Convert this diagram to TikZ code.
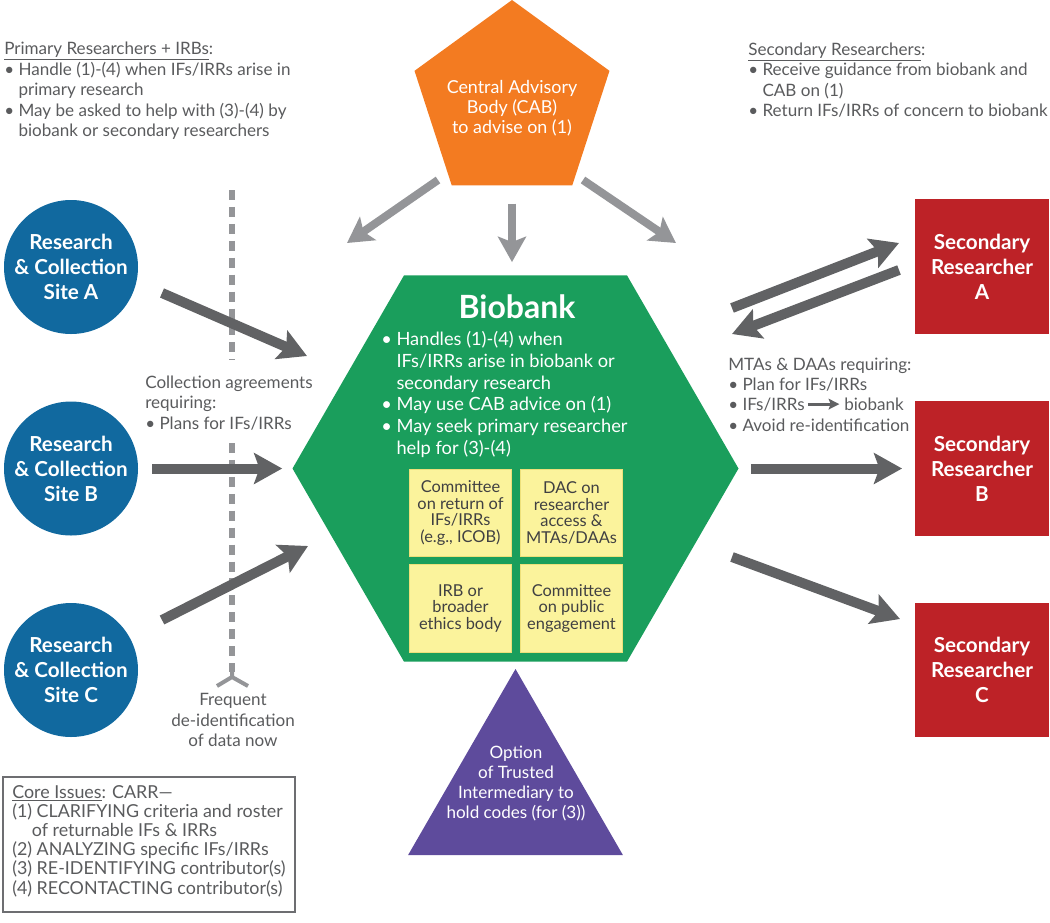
\documentclass[tikz,border=0pt]{standalone}
\usepackage{fontspec}
\setmainfont{Lato}
\usetikzlibrary{arrows.meta}
\usetikzlibrary{shapes.geometric}

\definecolor{cabOrange}{HTML}{F37B21}
\definecolor{bankGreen}{HTML}{1A9E5C}
\definecolor{siteBlue}{HTML}{11699F}
\definecolor{srRed}{HTML}{BD2227}
\definecolor{tiPurple}{HTML}{5E4B9C}
\definecolor{noteYellow}{HTML}{FBF39C}
\definecolor{yellowEdge}{HTML}{EDE07A}
\definecolor{arrowDark}{HTML}{616264}
\definecolor{arrowLight}{HTML}{949598}
\definecolor{textGray}{HTML}{5A5B5D}
\definecolor{boxText}{HTML}{404042}
\definecolor{boxGray}{HTML}{6D6E71}

\newcommand{\bul}{\textbullet\ }
\newcommand{\ind}{\hphantom{\textbullet\ }}

\begin{document}
\begin{tikzpicture}[x=0.75pt, y=-0.75pt,
  note/.style={text=textGray, font=\fontsize{12.8}{15.4}\selectfont, align=left, inner sep=0pt},
  shapetext/.style={text=white, align=center, inner sep=0pt},
  bigtext/.style={text=white, align=center, font=\bfseries\fontsize{15.5}{18.75}\selectfont},
  site/.style={circle, fill=siteBlue, minimum size=100.5pt, inner sep=0pt, bigtext},
  secres/.style={rectangle, fill=srRed, minimum width=100pt, minimum height=101pt, inner sep=0pt, bigtext},
  ybox/.style={rectangle, fill=noteYellow, draw=yellowEdge, line width=0.8pt, minimum width=76.5pt, minimum height=65.5pt, inner sep=0pt, align=center, text=boxText, font=\fontsize{12.3}{12.3}\selectfont},
  darkarrow/.style={color=arrowDark, line width=7.5pt, -{Stealth[length=21pt, width=23pt, inset=4pt]}},
  lightarrow/.style={color=arrowLight, line width=6pt, -{Stealth[length=19pt, width=21pt, inset=4pt]}},
  minarrow/.style={color=arrowDark, line width=2.2pt, -{Stealth[length=8pt, width=8pt, inset=1.5pt]}},
  dashline/.style={color=arrowLight, line width=3.8pt, dash pattern=on 7.5pt off 5.2pt}]
\useasboundingbox (0,0) rectangle (1050,922);

\draw[dashline] (232,190) -- (232,360);
\draw[dashline] (232,443) -- (232,672);
\draw[arrowLight, line width=3pt] (232,670) -- (232,677) (217,686) -- (232,677) -- (248,686);

\node[regular polygon, regular polygon sides=5, fill=cabOrange, minimum size=153.75pt, inner sep=0pt] (cab) at (512,102.5) {};
\node[regular polygon, regular polygon sides=6, fill=bankGreen, minimum size=334.5pt, inner sep=0pt] (bank) at (515.5,468.5) {};
\node[regular polygon, regular polygon sides=3, fill=tiPurple, minimum size=186pt, inner sep=0pt] (ti) at (515.5,793) {};

\node[shapetext, font=\fontsize{13.4}{15}\selectfont] (cabtext) at (512,108.5) {Central Advisory\\Body (CAB)\\to advise on (1)};
\node[shapetext, font=\bfseries\fontsize{24}{26}\selectfont] (banktitle) at (517,307) {Biobank};
\node[shapetext, align=left, anchor=west, font=\fontsize{13.7}{16.3}\selectfont] (bankduties) at (381,394.5) {\bul Handles (1)-(4) when\\\ind IFs/IRRs arise in biobank or\\\ind secondary research\\\bul May use CAB advice on (1)\\\bul May seek primary researcher\\\ind help for (3)-(4)};
\node[ybox] (icob) at (460.5,513) {Committee\\on return of\\IFs/IRRs\\(e.g., ICOB)};
\node[ybox] (dac) at (571.5,513) {DAC on\\researcher\\access \&\\MTAs/DAAs};
\node[ybox] (irb) at (460.5,608.5) {IRB or\\broader\\ethics body};
\node[ybox] (pub) at (571.5,608.5) {Committee\\on public\\engagement};
\node[shapetext, font=\fontsize{12.8}{15}\selectfont] (titext) at (516,783.5) {Option\\of Trusted\\Intermediary to\\hold codes (for (3))};

\node[site] (siteA) at (71,267) {Research\\\& Collection\\Site A};
\node[site] (siteB) at (71,468.5) {Research\\\& Collection\\Site B};
\node[site] (siteC) at (71,670) {Research\\\& Collection\\Site C};
\node[secres] (srA) at (982,266.5) {Secondary\\Researcher\\A};
\node[secres] (srB) at (982,468.5) {Secondary\\Researcher\\B};
\node[secres] (srC) at (982,670) {Secondary\\Researcher\\C};

\node[note, anchor=west] (primnote) at (4,91) {\underline{Primary Researchers + IRBs}:\\\bul Handle (1)-(4) when IFs/IRRs arise in\\\ind primary research\\\bul May be asked to help with (3)-(4) by\\\ind biobank or secondary researchers};
\node[note, anchor=west] (secnote) at (748,80) {\underline{Secondary Researchers}:\\\bul Receive guidance from biobank and\\\ind CAB on (1)\\\bul Return IFs/IRRs of concern to biobank};
\node[note, anchor=west] (collnote) at (145,403) {Collection agreements\\requiring:\\\bul Plans for IFs/IRRs};
\node[note, align=center] (deidnote) at (233,720) {Frequent\\de-identification\\of data now};
\node[note, anchor=base west] (mtahead) at (728,370) {MTAs \& DAAs requiring:};
\node[note, anchor=base west] (mtaplan) at (728,390) {\bul Plan for IFs/IRRs};
\node[note, anchor=base west] (mtairr) at (728,410) {\bul IFs/IRRs};
\node[note, anchor=base west] (mtabio) at (844,410) {biobank};
\node[note, anchor=base west] (mtaavoid) at (728,431) {\bul Avoid re-identification};
\draw[minarrow, shorten >=3.5pt] (mtairr.east) ++(3,0) -- (mtairr.east -| mtabio.west);

\draw[boxGray, line width=1.5pt] (3,777) rectangle (295,912);
\node[note, anchor=west, font=\fontsize{13.4}{14.4}\selectfont] (core) at (12,841) {\underline{Core Issues}: CARR\textemdash\\(1) CLARIFYING criteria and roster\\\hspace*{1.1em}of returnable IFs \& IRRs\\(2) ANALYZING specific IFs/IRRs\\(3) RE-IDENTIFYING contributor(s)\\(4) RECONTACTING contributor(s)};

\coordinate (cabL1) at (438,180); \coordinate (cabL2) at (347,243);
\coordinate (cabR1) at (583,180); \coordinate (cabR2) at (676,243);
\coordinate (inA1) at (162,293); \coordinate (inA2) at (307,356);
\coordinate (inC1) at (162,620); \coordinate (inC2) at (308,546);
\coordinate (outA1) at (732,308); \coordinate (outA2) at (899,243);
\coordinate (backA1) at (899,270); \coordinate (backA2) at (732,334);
\coordinate (outC1) at (732,557); \coordinate (outC2) at (900,619);

\foreach \s/\t in {cabL1/cabL2, cabR1/cabR2} {
 \draw[lightarrow] (\s) -- (\t);
}
\draw[lightarrow, shorten <=13.5pt, shorten >=9.75pt] (cab) -- (cab |- bank.north);
\foreach \s/\t in {inA1/inA2, inC1/inC2, outA1/outA2, backA1/backA2, outC1/outC2} {
 \draw[darkarrow] (\s) -- (\t);
}
\draw[darkarrow, shorten <=10.5pt, shorten >=7.5pt] (siteB) -- (bank);
\draw[darkarrow, shorten <=9pt, shorten >=9.75pt] (bank) -- (srB);
\end{tikzpicture}
\end{document}
